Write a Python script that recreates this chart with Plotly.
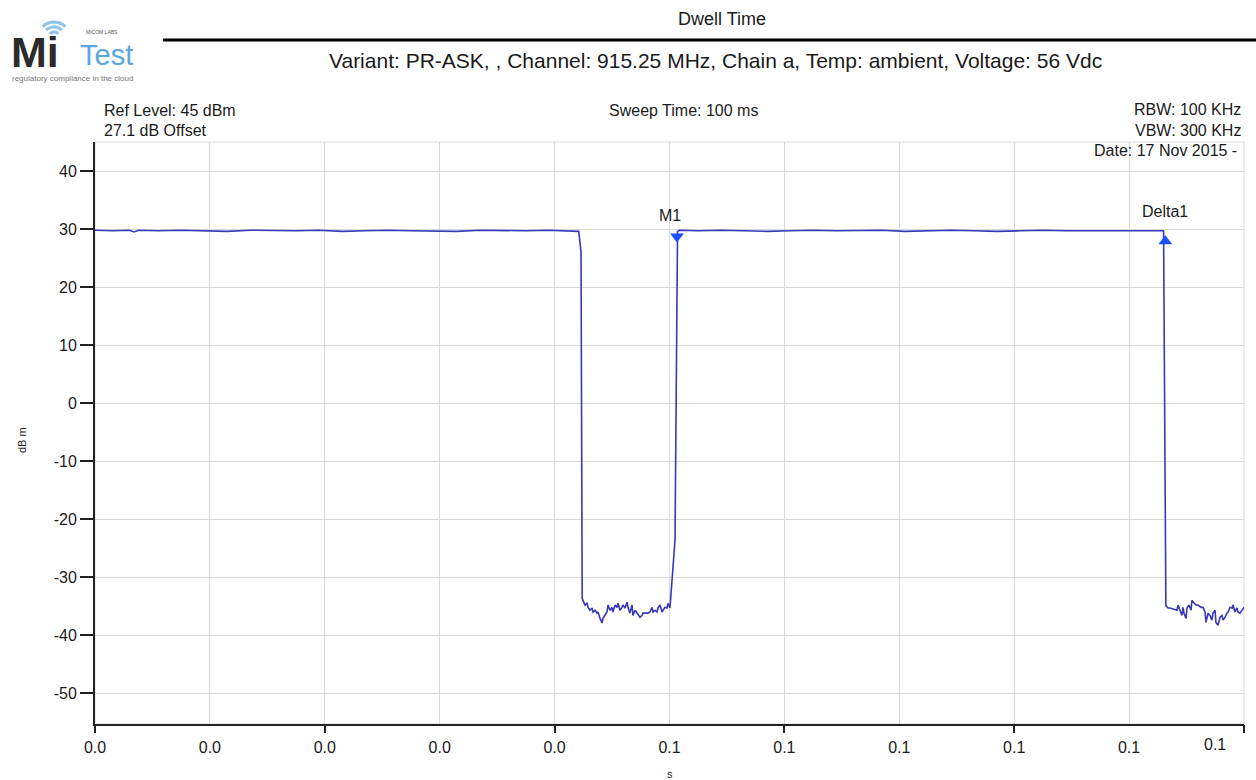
import math
import plotly.graph_objects as go

# ---------------- data (time in ms, level in dBm) ----------------
hi1_ms = [0.0, 1.5, 3.0, 3.4, 3.8, 5.5, 7.5, 9.5, 11.5, 13.5, 15.5, 17.5, 19.5, 21.5, 23.5,
          25.5, 27.5, 29.5, 31.5, 33.5, 35.5, 37.5, 39.5, 41.0, 42.1]
hi1_db = [29.8, 29.7, 29.8, 29.5, 29.8, 29.7, 29.8, 29.7, 29.6, 29.8, 29.7, 29.7, 29.8, 29.6, 29.7,
          29.8, 29.7, 29.7, 29.6, 29.8, 29.7, 29.7, 29.8, 29.7, 29.6]

fall1_ms = [42.3, 42.4]
fall1_db = [26.0, -33.6]

noise1_ms = [42.47, 42.65, 42.82, 42.91, 43.08, 43.26, 43.34, 43.52, 43.69, 43.78,
             43.95, 44.13, 44.21, 44.39, 44.56, 44.65, 44.82, 45.0, 45.08, 45.26,
             45.43, 45.52, 45.69, 45.87, 45.95, 46.13, 46.30, 46.39, 46.56, 46.74,
             46.82, 47.0, 47.17, 47.26, 47.43, 47.61, 47.69, 47.87, 48.04, 48.13,
             48.30, 48.48, 48.56, 48.74, 48.91, 49.0, 49.17, 49.35, 49.43, 49.61,
             49.78, 49.87, 50.04]
noise1_db = [-34.0, -34.8, -34.5, -35.2, -35.7, -35.3, -36.0, -35.7, -36.2, -36.0,
             -37.1, -37.9, -37.1, -36.6, -36.0, -34.8, -35.7, -35.2, -36.0, -34.8,
             -35.2, -34.5, -35.7, -35.2, -34.8, -35.3, -34.3, -35.2, -36.2, -34.8,
             -36.6, -35.7, -36.2, -36.6, -36.9, -36.6, -36.2, -36.2, -36.2, -36.2,
             -36.0, -35.2, -36.0, -35.7, -36.0, -35.3, -34.8, -36.0, -35.7, -35.2,
             -35.3, -34.5, -35.3]

rise_ms = [50.48, 50.7]
rise_db = [-23.6, 29.6]

hi2_ms = [50.9, 52.5, 54.5, 56.5, 58.5, 60.5, 62.5, 64.5, 66.5, 68.5, 70.5, 72.5,
          74.5, 76.5, 78.5, 80.5, 82.5, 84.5, 86.5, 88.5, 90.5, 92.0, 93.0]
hi2_db = [29.8, 29.7, 29.8, 29.7, 29.6, 29.7, 29.8, 29.7, 29.7, 29.8, 29.6, 29.7,
          29.8, 29.7, 29.6, 29.7, 29.8, 29.7, 29.7, 29.8, 29.7, 29.8, 29.7]

fall2_ms = [93.2]
fall2_db = [-34.9]

noise2_ms = [93.39, 93.56, 93.82, 94.17, 94.26, 94.43, 94.60, 94.69, 94.78, 94.95,
             95.04, 95.21, 95.39, 95.47, 95.65, 95.82, 96.0, 96.26, 96.43, 96.61,
             96.69, 96.87, 97.04, 97.21, 97.30, 97.48, 97.56, 97.74, 97.91, 98.09,
             98.17, 98.35, 98.52, 98.61, 98.78, 98.96, 99.04, 99.22, 99.39, 99.48,
             99.65, 99.83, 100.0]
noise2_db = [-35.3, -35.3, -35.5, -35.7, -34.8, -35.7, -36.6, -35.2, -36.2, -37.1,
             -35.3, -34.8, -35.7, -34.0, -34.5, -34.8, -34.8, -35.2, -35.2, -36.0,
             -37.8, -36.2, -36.6, -37.4, -36.2, -35.7, -37.8, -38.3, -36.9, -36.6,
             -37.4, -36.9, -36.2, -36.0, -35.2, -35.3, -34.8, -36.0, -35.3, -36.0,
             -36.2, -35.7, -35.2]

marker_names = ["M1", "Delta1"]
marker_ms = [50.65, 93.15]
marker_db = [28.7, 27.9]
marker_symbols = ["triangle-down", "triangle-up"]
marker_label_db = [32.4, 33.1]

x_tick_s = [0.0, 0.01, 0.02, 0.03, 0.04, 0.05, 0.06, 0.07, 0.08, 0.09, 0.1]
x_tick_text = ["0.0", "0.0", "0.0", "0.0", "0.0", "0.1", "0.1", "0.1", "0.1", "0.1", ""]
x_major_s = [0.0, 0.02, 0.04, 0.06, 0.08, 0.1]
last_x_label = "0.1"
y_ticks = [-50, -40, -30, -20, -10, 0, 10, 20, 30, 40]
y_tick_text = ["-50", "-40", "-30", "-20", "-10", "0", "10", "20", "30", "40"]

title_text = "Dwell Time"
subtitle_text = "Variant: PR-ASK, , Channel: 915.25 MHz, Chain a, Temp: ambient, Voltage: 56 Vdc"

# ---------------- build ----------------
t_ms = hi1_ms + fall1_ms + noise1_ms + rise_ms + hi2_ms + fall2_ms + noise2_ms
lvl = hi1_db + fall1_db + noise1_db + rise_db + hi2_db + fall2_db + noise2_db
t_s = [v / 1000.0 for v in t_ms]

W, H = 1256, 780
L, R, T, B = 95, 1244, 142, 724


def px(x):
    return (x - L) / (R - L)


def py(y):
    return (B - y) / (B - T)


FONT = "Liberation Sans, Arial, sans-serif"
TXT = "#1a1a1a"
GRID = "#d9d9d9"

fig = go.Figure()
fig.add_trace(go.Scatter(x=t_s, y=lvl, mode="lines",
                         line=dict(color="#3838b8", width=1.6), hoverinfo="skip",
                         showlegend=False))
fig.add_trace(go.Scatter(x=[v / 1000.0 for v in marker_ms], y=marker_db, mode="markers",
                         marker=dict(symbol=marker_symbols, size=12, color="#1a4fff",
                                     line=dict(width=0)),
                         hoverinfo="skip", showlegend=False))
# invisible trace to activate the tick-mark axis
fig.add_trace(go.Scatter(x=[0.05], y=[0], xaxis="x2", mode="markers",
                         marker=dict(opacity=0), hoverinfo="skip", showlegend=False))

annotations = []


def ann(text, x, y, xa="center", ya="middle", size=16, color=TXT, family=FONT, **kw):
    annotations.append(dict(text=text, x=x, y=y, xref="paper", yref="paper",
                            xanchor=xa, yanchor=ya, showarrow=False,
                            font=dict(size=size, color=color, family=family), **kw))


ann(title_text, px(722), py(19), size=18)
ann(subtitle_text, px(715), py(60), size=21)
ann("Ref Level: 45 dBm", px(102), py(111), xa="left", size=16)
ann("27.1 dB Offset", px(102), py(130), xa="left", size=16)
ann("Sweep Time: 100 ms", px(683), py(111), size=16)
ann("RBW: 100 KHz", px(1243), py(110), xa="right", size=16)
ann("VBW: 300 KHz", px(1243), py(130), xa="right", size=16)
ann("Date: 17 Nov 2015 -", px(1239), py(151), xa="right", size=16)
ann(last_x_label, px(1215), py(744), size=16)
ann("dB m", px(22), py(440), size=11, textangle=-90)
ann("s", px(670), py(774), size=11)

# marker labels
for n, m, d in zip(marker_names, marker_ms, marker_label_db):
    annotations.append(dict(text=n, x=m / 1000.0 - (0.0006 if n == "M1" else 0.0), y=d,
                            xref="x", yref="y", showarrow=False,
                            font=dict(size=16, color=TXT, family=FONT)))

# logo
ann("<b>Mi</b>", px(9), py(52), xa="left", size=43, color="#2b2b2b",
    family="Liberation Sans, Arial, sans-serif")
ann("Test", px(78), py(55), xa="left", size=29, color="#5aa7de",
    family="Liberation Sans Narrow, Arial Narrow, sans-serif")
ann("MICOM LABS", px(84), py(32), xa="left", size=5, color="#555555")
ann("regulatory compliance in the cloud", px(72), py(79), size=8, color="#777777",
    family="Liberation Sans Narrow, sans-serif")

shapes = []
# header rule
shapes.append(dict(type="line", xref="paper", yref="paper", x0=px(163), x1=px(1256),
                   y0=py(40), y1=py(40), line=dict(color="black", width=3)))
# grey frame (top/right)
shapes.append(dict(type="rect", xref="paper", yref="paper", x0=0, x1=1, y0=0, y1=1,
                   line=dict(color=GRID, width=1), layer="below"))
# wifi arcs
cx, cy = 54, 38
for r in (6, 11, 16):
    pts = []
    for k in range(13):
        a = math.radians(45 + 90 * k / 12)
        pts.append((px(cx + r * math.cos(a)), py(cy - r * math.sin(a))))
    path = "M " + " L ".join(f"{a:.5f},{b:.5f}" for a, b in pts)
    shapes.append(dict(type="path", xref="paper", yref="paper", path=path,
                       line=dict(color="#8cc4ec", width=3)))

fig.update_layout(
    width=W, height=H,
    margin=dict(l=L, r=W - R, t=T, b=H - B, pad=0),
    paper_bgcolor="white", plot_bgcolor="white",
    showlegend=False,
    font=dict(family=FONT, color=TXT, size=16),
    annotations=annotations, shapes=shapes,
    xaxis=dict(range=[0, 0.1], tickvals=x_tick_s, ticktext=x_tick_text,
               ticks="outside", ticklen=8, tickcolor="rgba(0,0,0,0)",
               showgrid=True, gridcolor=GRID, gridwidth=1, zeroline=False,
               showline=True, linecolor="#222222", linewidth=2,
               tickfont=dict(size=16, color=TXT, family=FONT)),
    xaxis2=dict(range=[0, 0.1], overlaying="x", anchor="y", side="bottom",
                tickvals=x_major_s, ticks="outside", ticklen=8, tickwidth=1.5,
                tickcolor="#222222", showticklabels=False, showgrid=False,
                zeroline=False, showline=False),
    yaxis=dict(range=[-55.3, 45], tickvals=y_ticks, ticktext=y_tick_text,
               ticks="outside", ticklen=13,
               tickwidth=1.5, tickcolor="#222222",
               showgrid=True, gridcolor=GRID, gridwidth=1, zeroline=False,
               showline=True, linecolor="#222222", linewidth=2,
               tickfont=dict(size=16, color=TXT, family=FONT)),
)

fig.write_html("out.html")
